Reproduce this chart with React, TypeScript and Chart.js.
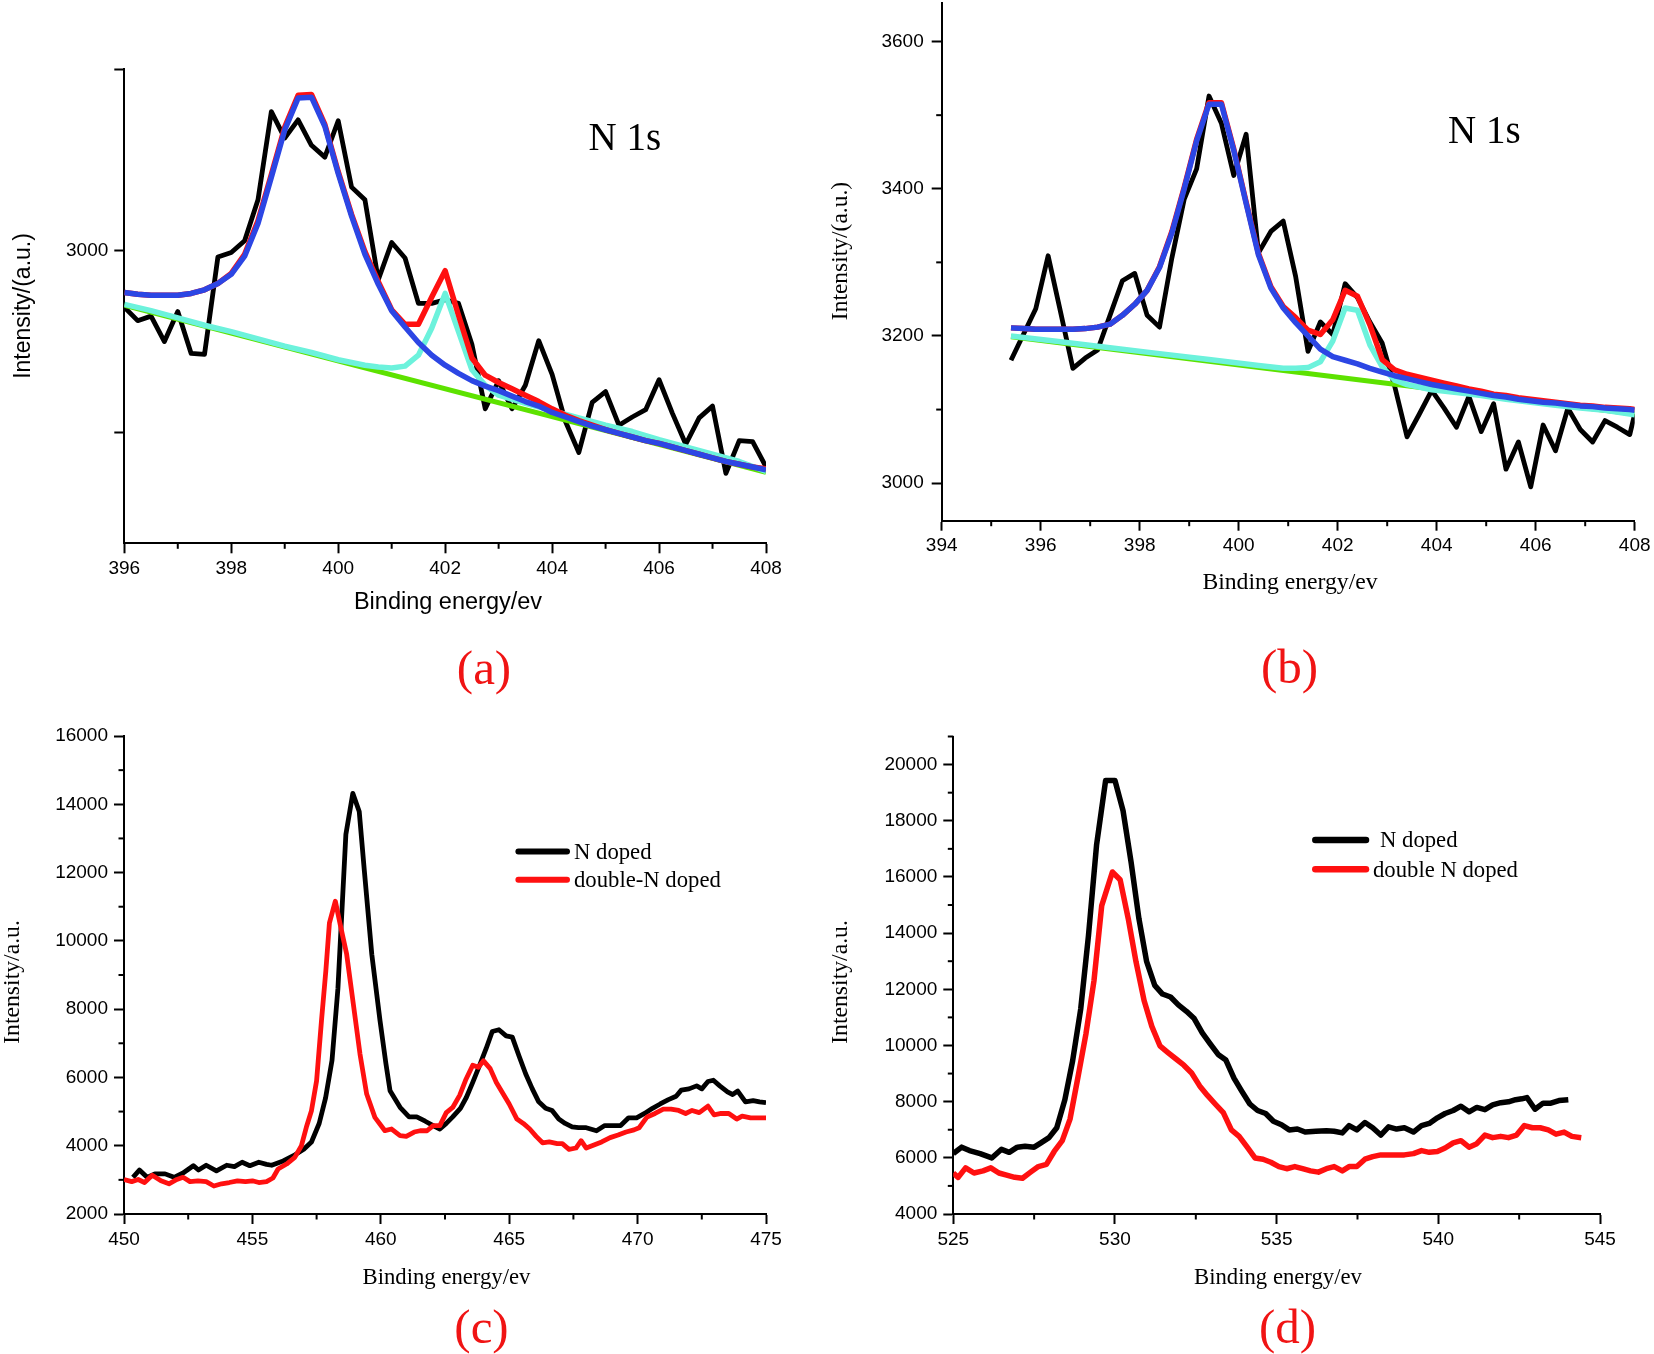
import React, { useEffect, useRef } from "react";
import { Chart, registerables } from "chart.js";

Chart.register(...registerables);

const PAGE_W = 1654;
const PAGE_H = 1354;
const SANS = '"Liberation Sans", Arial, Helvetica, sans-serif';
const SERIF = '"Liberation Serif", "Times New Roman", Times, serif';

const BLACK = "#000000";
const RED = "#ff1010";
const BLUE = "#2c46e4";
const CYAN = "#6cf2dc";
const GREEN = "#5de200";
const LABEL_RED = "#f01414";

// ---------------- Panel (a): N 1s ----------------
const A_X = [396, 396.25, 396.5, 396.75, 397, 397.25, 397.5, 397.75, 398, 398.25, 398.5, 398.75, 399, 399.25, 399.5, 399.75, 400, 400.25, 400.5, 400.75, 401, 401.25, 401.5, 401.75, 402, 402.25, 402.5, 402.75, 403, 403.25, 403.5, 403.75, 404, 404.25, 404.5, 404.75, 405, 405.25, 405.5, 405.75, 406, 406.25, 406.5, 406.75, 407, 407.25, 407.5, 407.75, 408];
const A_DATA = [2938, 2923, 2928, 2900, 2933, 2887, 2886, 2993, 2998, 3011, 3056, 3153, 3124, 3144, 3116, 3103, 3143, 3070, 3056, 2968, 3009, 2992, 2942, 2942, 2946, 2942, 2897, 2826, 2857, 2826, 2852, 2901, 2864, 2812, 2778, 2833, 2845, 2808, 2817, 2825, 2858, 2821, 2787, 2816, 2829, 2755, 2791, 2790, 2762];
const A_PEAK1 = [2954, 2952, 2951, 2951, 2951, 2953, 2957, 2964, 2974, 2994, 3030, 3081, 3133, 3168, 3169, 3137, 3085, 3038, 2996, 2963, 2934, 2916, 2899, 2885, 2874, 2865, 2857, 2851, 2846, 2840, 2834, 2829, 2822, 2817, 2812, 2807, 2803, 2799, 2795, 2791, 2788, 2784, 2780, 2776, 2772, 2768, 2765, 2762, 2759];
const A_ENVELOPE = [2954, 2952, 2951, 2951, 2951, 2953, 2957, 2964, 2975, 2996, 3033, 3084, 3136, 3171, 3172, 3139, 3087, 3040, 2999, 2966, 2935, 2919, 2919, 2949, 2978, 2929, 2882, 2863, 2855, 2848, 2841, 2834, 2826, 2819, 2813, 2808, 2803, 2799, 2795, 2791, 2788, 2784, 2780, 2776, 2772, 2768, 2765, 2762, 2760];
const A_PEAK2_X = [396, 396.5, 397, 397.5, 398, 398.5, 399, 399.5, 400, 400.5, 400.75, 401, 401.25, 401.5, 401.75, 402, 402.25, 402.5, 402.75, 403, 403.5, 404, 404.5, 405, 405.5, 406, 406.5, 407, 407.5, 408];
const A_PEAK2 = [2941, 2934, 2926, 2918, 2911, 2903, 2895, 2888, 2880, 2874, 2872, 2871, 2873, 2885, 2915, 2953, 2911, 2869, 2852, 2841, 2832, 2824, 2816, 2808, 2801, 2792, 2784, 2776, 2768, 2757];
const A_BG_X = [396, 408];
const A_BG = [2940, 2756];
const A_X_TICKS = [396, 398, 400, 402, 404, 406, 408];
const A_X_MINOR = [397, 399, 401, 403, 405, 407];
const A_Y_TICKS = [2800, 3000, 3200];
const A_Y_LABELED = [3000];

// ---------------- Panel (b): N 1s ----------------
const B_X = [395.4, 395.65, 395.9, 396.15, 396.4, 396.65, 396.9, 397.15, 397.4, 397.65, 397.9, 398.15, 398.4, 398.65, 398.9, 399.15, 399.4, 399.65, 399.9, 400.15, 400.4, 400.65, 400.9, 401.15, 401.4, 401.65, 401.9, 402.15, 402.4, 402.65, 402.9, 403.15, 403.4, 403.65, 403.9, 404.15, 404.4, 404.65, 404.9, 405.15, 405.4, 405.65, 405.9, 406.15, 406.4, 406.65, 406.9, 407.15, 407.4, 407.65, 407.9, 408];
const B_DATA = [3167, 3202, 3237, 3309, 3233, 3156, 3170, 3181, 3228, 3275, 3285, 3228, 3212, 3306, 3386, 3427, 3526, 3489, 3418, 3474, 3313, 3342, 3356, 3281, 3179, 3219, 3202, 3271, 3252, 3219, 3190, 3132, 3063, 3094, 3126, 3102, 3076, 3118, 3070, 3108, 3019, 3056, 2995, 3079, 3044, 3102, 3073, 3056, 3085, 3076, 3066, 3094];
const B_PEAK1 = [3211, 3210, 3209, 3209, 3209, 3209, 3210, 3212, 3216, 3228, 3243, 3262, 3293, 3340, 3400, 3465, 3515, 3515, 3452, 3380, 3310, 3265, 3238, 3218, 3200, 3182, 3172, 3167, 3162, 3156, 3151, 3146, 3142, 3138, 3134, 3131, 3128, 3125, 3122, 3119, 3117, 3114, 3112, 3110, 3109, 3107, 3105, 3104, 3102, 3101, 3100, 3099];
const B_ENVELOPE = [3211, 3210, 3209, 3209, 3209, 3209, 3210, 3212, 3216, 3228, 3243, 3262, 3294, 3342, 3402, 3467, 3517, 3517, 3454, 3382, 3312, 3267, 3240, 3225, 3208, 3202, 3222, 3262, 3254, 3215, 3168, 3154, 3148, 3144, 3140, 3136, 3132, 3128, 3125, 3121, 3119, 3116, 3114, 3112, 3110, 3108, 3106, 3105, 3103, 3102, 3101, 3100];
const B_PEAK2_X = [395.4, 396.4, 397.4, 398.4, 399.4, 400.4, 400.9, 401.15, 401.4, 401.65, 401.9, 402.15, 402.4, 402.65, 402.9, 403.15, 403.4, 403.9, 404.4, 404.9, 405.4, 405.9, 406.4, 406.9, 407.4, 408];
const B_PEAK2 = [3200, 3192, 3184, 3176, 3168, 3160, 3156, 3156, 3157, 3165, 3193, 3238, 3235, 3188, 3158, 3140, 3134, 3127, 3123, 3119, 3114, 3110, 3106, 3102, 3099, 3093];
const B_BG_X = [395.4, 408];
const B_BG = [3199, 3094];
const B_X_TICKS = [394, 396, 398, 400, 402, 404, 406, 408];
const B_X_MINOR = [395, 397, 399, 401, 403, 405, 407];
const B_Y_TICKS = [3000, 3200, 3400, 3600];
const B_Y_MINOR = [3100, 3300, 3500];

// ---------------- Panel (c) ----------------
const C_N_X = [450.35, 450.6, 450.9, 451.2, 451.6, 451.95, 452.3, 452.7, 452.9, 453.2, 453.6, 454.0, 454.3, 454.6, 454.9, 455.25, 455.55, 455.75, 456.2, 456.6, 457.0, 457.3, 457.6, 457.85, 458.1, 458.33, 458.64, 458.91, 459.16, 459.36, 459.65, 459.97, 460.2, 460.36, 460.75, 461.1, 461.4, 461.73, 462.04, 462.3, 462.55, 462.8, 463.1, 463.33, 463.58, 463.85, 464.1, 464.34, 464.6, 464.88, 465.12, 465.39, 465.64, 465.9, 466.15, 466.42, 466.67, 466.93, 467.18, 467.45, 467.7, 468.0, 468.4, 468.72, 469.03, 469.34, 469.65, 469.96, 470.27, 470.58, 470.88, 471.2, 471.5, 471.7, 472.0, 472.3, 472.5, 472.74, 472.95, 473.2, 473.5, 473.7, 473.9, 474.2, 474.5, 474.75, 475.0];
const C_N_Y = [3074, 3289, 3074, 3175, 3175, 3074, 3200, 3415, 3289, 3428, 3264, 3428, 3390, 3516, 3415, 3516, 3453, 3428, 3554, 3706, 3895, 4110, 4650, 5400, 6500, 8600, 13120, 14320, 13790, 12046, 9600, 7660, 6400, 5610, 5124, 4843, 4843, 4717, 4590, 4489, 4654, 4843, 5096, 5412, 5854, 6359, 6840, 7345, 7396, 7219, 7181, 6612, 6107, 5665, 5285, 5096, 5033, 4780, 4654, 4553, 4527, 4527, 4439, 4590, 4590, 4590, 4818, 4818, 4944, 5096, 5222, 5349, 5450, 5627, 5665, 5753, 5665, 5880, 5917, 5753, 5576, 5500, 5601, 5285, 5323, 5285, 5260];
const C_DN_X = [450.0, 450.3, 450.55, 450.8, 451.1, 451.44, 451.75, 452.06, 452.3, 452.57, 452.88, 453.2, 453.5, 453.8, 454.1, 454.42, 454.73, 455.0, 455.25, 455.55, 455.8, 456.0, 456.33, 456.65, 456.91, 457.1, 457.3, 457.5, 457.69, 457.86, 458.0, 458.23, 458.44, 458.67, 458.93, 459.19, 459.45, 459.77, 460.16, 460.42, 460.75, 460.99, 461.3, 461.53, 461.8, 462.04, 462.3, 462.55, 462.8, 463.07, 463.3, 463.58, 463.8, 464.0, 464.26, 464.5, 464.75, 465.0, 465.3, 465.55, 465.8, 466.05, 466.3, 466.56, 466.87, 467.07, 467.33, 467.6, 467.8, 468.0, 468.3, 468.6, 468.93, 469.24, 469.55, 469.86, 470.06, 470.37, 470.68, 471.0, 471.3, 471.6, 471.87, 472.12, 472.4, 472.74, 472.98, 473.25, 473.55, 473.86, 474.07, 474.4, 475.0];
const C_DN_Y = [3011, 2948, 3011, 2922, 3137, 2973, 2885, 3011, 3074, 2948, 2973, 2948, 2821, 2885, 2922, 2973, 2948, 2973, 2922, 2950, 3054, 3318, 3464, 3659, 4000, 4539, 5025, 5903, 7660, 9124, 10529, 11161, 10403, 9613, 8149, 6685, 5514, 4831, 4440, 4489, 4293, 4274, 4401, 4439, 4439, 4590, 4590, 4970, 5121, 5475, 5917, 6359, 6296, 6486, 6258, 5854, 5538, 5222, 4780, 4654, 4489, 4274, 4085, 4110, 4060, 4060, 3895, 3933, 4148, 3933, 4022, 4110, 4237, 4312, 4401, 4464, 4527, 4843, 4944, 5071, 5071, 5033, 4944, 5033, 4970, 5159, 4906, 4944, 4944, 4780, 4868, 4818, 4818];
const C_X_TICKS = [450, 455, 460, 465, 470, 475];
const C_X_MINOR = [452.5, 457.5, 462.5, 467.5, 472.5];
const C_Y_TICKS = [2000, 4000, 6000, 8000, 10000, 12000, 14000, 16000];
const C_Y_MINOR = [3000, 5000, 7000, 9000, 11000, 13000, 15000];

// ---------------- Panel (d) ----------------
const D_N_X = [525.0, 525.26, 525.5, 525.83, 526.19, 526.49, 526.73, 526.98, 527.22, 527.5, 527.71, 527.96, 528.2, 528.45, 528.69, 528.94, 529.18, 529.43, 529.71, 530.0, 530.25, 530.5, 530.74, 530.98, 531.23, 531.47, 531.72, 531.96, 532.21, 532.45, 532.7, 532.94, 533.19, 533.43, 533.68, 533.92, 534.17, 534.41, 534.66, 534.9, 535.15, 535.39, 535.64, 535.88, 536.21, 536.54, 536.78, 537.03, 537.24, 537.48, 537.73, 537.97, 538.22, 538.46, 538.71, 538.95, 539.23, 539.48, 539.72, 539.97, 540.21, 540.46, 540.7, 540.95, 541.19, 541.44, 541.68, 541.93, 542.17, 542.39, 542.58, 542.74, 542.99, 543.24, 543.48, 543.73, 544.02];
const D_N_Y = [6150, 6380, 6257, 6150, 5996, 6303, 6196, 6380, 6411, 6380, 6534, 6718, 7071, 8069, 9451, 11294, 13904, 17129, 19432, 19432, 18357, 16514, 14518, 12983, 12138, 11831, 11724, 11447, 11217, 10956, 10449, 10065, 9681, 9482, 8837, 8376, 7916, 7685, 7578, 7301, 7179, 6994, 7025, 6918, 6948, 6964, 6948, 6887, 7148, 6994, 7255, 7071, 6810, 7102, 7025, 7071, 6918, 7148, 7225, 7424, 7578, 7685, 7839, 7639, 7793, 7716, 7885, 7962, 7993, 8069, 8100, 8146, 7731, 7946, 7946, 8038, 8069];
const D_DN_X = [525.0, 525.15, 525.38, 525.64, 525.92, 526.16, 526.41, 526.65, 526.9, 527.14, 527.39, 527.63, 527.88, 528.12, 528.37, 528.61, 528.86, 529.1, 529.35, 529.59, 529.92, 530.16, 530.41, 530.65, 530.9, 531.14, 531.39, 531.63, 531.88, 532.13, 532.37, 532.62, 532.86, 533.1, 533.35, 533.6, 533.84, 534.09, 534.33, 534.58, 534.82, 535.07, 535.31, 535.56, 535.8, 536.05, 536.29, 536.54, 536.78, 537.03, 537.24, 537.48, 537.73, 537.97, 538.22, 538.46, 538.71, 538.95, 539.23, 539.48, 539.72, 539.97, 540.21, 540.46, 540.7, 540.95, 541.19, 541.44, 541.68, 541.93, 542.17, 542.42, 542.66, 542.91, 543.15, 543.4, 543.64, 543.89, 544.13, 544.42];
const D_DN_Y = [5459, 5305, 5643, 5459, 5536, 5643, 5459, 5382, 5305, 5274, 5490, 5689, 5766, 6226, 6610, 7378, 8900, 10400, 12300, 14979, 16177, 15900, 14518, 12983, 11601, 10679, 9988, 9758, 9528, 9297, 9021, 8560, 8223, 7916, 7608, 6994, 6764, 6380, 5996, 5950, 5843, 5689, 5612, 5689, 5612, 5536, 5490, 5612, 5689, 5536, 5689, 5689, 5950, 6042, 6104, 6104, 6104, 6104, 6150, 6257, 6196, 6226, 6349, 6534, 6610, 6380, 6503, 6810, 6718, 6764, 6718, 6810, 7148, 7071, 7071, 6994, 6841, 6918, 6764, 6718];
const D_X_TICKS = [525, 530, 535, 540, 545];
const D_X_MINOR = [527.5, 532.5, 537.5, 542.5];
const D_Y_TICKS = [4000, 6000, 8000, 10000, 12000, 14000, 16000, 18000, 20000];
const D_Y_MINOR = [5000, 7000, 9000, 11000, 13000, 15000, 17000, 19000, 21000];

const pts = (xs: number[], ys: number[]) => xs.map((x, i) => ({ x, y: ys[i] }));

const line = (label: string, xs: number[], ys: number[], color: string, width: number, order: number) => ({
  label,
  data: pts(xs, ys),
  borderColor: color,
  backgroundColor: color,
  borderWidth: width,
  pointRadius: 0,
  fill: false,
  tension: 0,
  borderJoinStyle: "round",
  borderCapStyle: "butt",
  order,
});

const decorPlugin = {
  id: "decor",
  afterDraw(chart: any, _args: any, opts: any) {
    const ctx = chart.ctx;
    const area = chart.chartArea;
    const xs = chart.scales.x;
    const ys = chart.scales.y;
    ctx.save();
    ctx.strokeStyle = "#000";
    ctx.lineWidth = 2;
    ctx.lineCap = "butt";
    const len = opts.minorLen || 5.5;
    (opts.minorX || []).forEach((v: number) => {
      const px = xs.getPixelForValue(v);
      ctx.beginPath();
      ctx.moveTo(px, area.bottom);
      ctx.lineTo(px, area.bottom + len);
      ctx.stroke();
    });
    (opts.minorY || []).forEach((v: number) => {
      const py = ys.getPixelForValue(v);
      ctx.beginPath();
      ctx.moveTo(area.left, py);
      ctx.lineTo(area.left - len, py);
      ctx.stroke();
    });
    (opts.texts || []).forEach((t: any) => {
      ctx.save();
      ctx.translate(t.x, t.y);
      if (t.rot) ctx.rotate(t.rot);
      ctx.font = t.font;
      ctx.fillStyle = t.color || "#000";
      ctx.textAlign = t.align || "left";
      ctx.textBaseline = t.baseline || "alphabetic";
      ctx.fillText(t.text, 0, 0);
      ctx.restore();
    });
    if (opts.legend) {
      const L = opts.legend;
      L.rows.forEach((r: any) => {
        const ds = chart.data.datasets[r.ds];
        ctx.strokeStyle = ds.borderColor;
        ctx.lineWidth = L.lineWidth;
        ctx.lineCap = "round";
        ctx.beginPath();
        ctx.moveTo(L.x1, r.y);
        ctx.lineTo(L.x2, r.y);
        ctx.stroke();
        ctx.font = L.font;
        ctx.fillStyle = "#000";
        ctx.textAlign = "left";
        ctx.textBaseline = "alphabetic";
        ctx.fillText(ds.label, r.tx, r.ty);
      });
    }
    ctx.restore();
  },
};

const YW = 70;
const XH = 50;

function buildConfig(spec: any) {
  const { area } = spec;
  const tickFont = { family: SANS, size: 19 };
  return {
    type: "line",
    data: { datasets: spec.datasets },
    options: {
      responsive: false,
      maintainAspectRatio: false,
      animation: false,
      devicePixelRatio: 1,
      events: [],
      layout: {
        padding: {
          left: area.l - YW,
          top: area.t,
          right: PAGE_W - area.r,
          bottom: PAGE_H - area.b - XH,
        },
      },
      scales: {
        x: {
          type: "linear",
          bounds: "data",
          min: spec.xMin,
          max: spec.xMax,
          afterBuildTicks: (s: any) => {
            s.ticks = spec.xTicks.map((v: number) => ({ value: v }));
          },
          afterFit: (s: any) => {
            s.height = XH;
            s.paddingLeft = 0;
            s.paddingRight = 0;
          },
          ticks: {
            autoSkip: false,
            maxRotation: 0,
            minRotation: 0,
            padding: 4,
            color: "#000",
            font: tickFont,
            callback: (v: any) => String(v),
          },
          grid: {
            display: true,
            drawOnChartArea: false,
            drawTicks: true,
            tickLength: 10,
            tickWidth: 2,
            tickColor: "#000",
            color: "#000",
          },
          border: { display: true, color: "#000", width: 2 },
        },
        y: {
          type: "linear",
          bounds: "data",
          min: spec.yMin,
          max: spec.yMax,
          afterBuildTicks: (s: any) => {
            s.ticks = spec.yTicks.map((v: number) => ({ value: v }));
          },
          afterFit: (s: any) => {
            s.width = YW;
            s.paddingTop = 0;
            s.paddingBottom = 0;
          },
          ticks: {
            autoSkip: false,
            padding: spec.yPad || 6,
            color: "#000",
            font: tickFont,
            callback: (v: any) => (spec.yLabeled ? (spec.yLabeled.includes(v) ? String(v) : "") : String(v)),
          },
          grid: {
            display: true,
            drawOnChartArea: false,
            drawTicks: true,
            tickLength: 10,
            tickWidth: 2,
            tickColor: "#000",
            color: "#000",
          },
          border: { display: true, color: "#000", width: 2 },
        },
      },
      plugins: {
        legend: { display: false },
        tooltip: { enabled: false },
        decor: spec.decor,
      },
    },
    plugins: [decorPlugin],
  };
}

const ROT = -Math.PI / 2;

const SPEC_A = {
  area: { l: 124.3, r: 766, t: 69, b: 543.3 },
  xMin: 396, xMax: 408, yMin: 2678, yMax: 3200,
  xTicks: A_X_TICKS, yTicks: A_Y_TICKS, yLabeled: A_Y_LABELED,
  datasets: [
    line("Peak 1 fit", A_X, A_PEAK1, BLUE, 5.5, 1),
    line("Cumulative fit", A_X, A_ENVELOPE, RED, 5.5, 2),
    line("Peak 2 fit", A_PEAK2_X, A_PEAK2, CYAN, 5.5, 3),
    line("Background", A_BG_X, A_BG, GREEN, 5, 4),
    line("N 1s data", A_X, A_DATA, BLACK, 4.8, 5),
  ],
  decor: {
    minorX: A_X_MINOR,
    minorY: [],
    texts: [
      { text: "Intensity/(a.u.)", x: 24, y: 306, rot: ROT, font: `23px ${SANS}`, align: "center", baseline: "middle" },
      { text: "Binding energy/ev", x: 448, y: 609, font: `23.5px ${SANS}`, align: "center" },
      { text: "N 1s", x: 588.5, y: 149.5, font: `39px ${SERIF}` },
      { text: "(a)", x: 484, y: 684, font: `49px ${SERIF}`, align: "center", color: LABEL_RED },
    ],
  },
};

const SPEC_B = {
  area: { l: 941.7, r: 1634.7, t: 3.3, b: 520.7 },
  xMin: 394, xMax: 408, yMin: 2949, yMax: 3652, yPad: 8,
  xTicks: B_X_TICKS, yTicks: B_Y_TICKS,
  datasets: [
    line("Peak 1 fit", B_X, B_PEAK1, BLUE, 5.5, 1),
    line("Cumulative fit", B_X, B_ENVELOPE, RED, 5.5, 2),
    line("Peak 2 fit", B_PEAK2_X, B_PEAK2, CYAN, 5.5, 3),
    line("Background", B_BG_X, B_BG, GREEN, 5, 4),
    line("N 1s data", B_X, B_DATA, BLACK, 4.8, 5),
  ],
  decor: {
    minorX: B_X_MINOR,
    minorY: B_Y_MINOR,
    texts: [
      { text: "Intensity/(a.u.)", x: 841, y: 251, rot: ROT, font: `23.5px ${SERIF}`, align: "center", baseline: "middle" },
      { text: "Binding energy/ev", x: 1290, y: 589, font: `23.7px ${SERIF}`, align: "center" },
      { text: "N 1s", x: 1448, y: 143, font: `39px ${SERIF}` },
      { text: "(b)", x: 1289.5, y: 683, font: `49px ${SERIF}`, align: "center", color: LABEL_RED },
    ],
  },
};

const SPEC_C = {
  area: { l: 124, r: 766, t: 736, b: 1214 },
  xMin: 450, xMax: 475, yMin: 2000, yMax: 16000,
  xTicks: C_X_TICKS, yTicks: C_Y_TICKS,
  datasets: [
    line("N doped", C_N_X, C_N_Y, BLACK, 4.8, 2),
    line("double-N doped", C_DN_X, C_DN_Y, RED, 4.8, 1),
  ],
  decor: {
    minorX: C_X_MINOR,
    minorY: C_Y_MINOR,
    texts: [
      { text: "Intensity/a.u.", x: 13, y: 982, rot: ROT, font: `23.7px ${SERIF}`, align: "center", baseline: "middle" },
      { text: "Binding energy/ev", x: 446.5, y: 1284, font: `22.7px ${SERIF}`, align: "center" },
      { text: "(c)", x: 481.5, y: 1343, font: `49px ${SERIF}`, align: "center", color: LABEL_RED },
    ],
    legend: {
      lineWidth: 6,
      x1: 518.4,
      x2: 567,
      font: `22.7px ${SERIF}`,
      rows: [
        { ds: 0, y: 851.5, tx: 574, ty: 859 },
        { ds: 1, y: 879.7, tx: 574, ty: 887.2 },
      ],
    },
  },
};

const SPEC_D = {
  area: { l: 953.3, r: 1600, t: 736.5, b: 1214 },
  xMin: 525, xMax: 545, yMin: 4000, yMax: 21000,
  xTicks: D_X_TICKS, yTicks: D_Y_TICKS,
  datasets: [
    line("N doped", D_N_X, D_N_Y, BLACK, 5.5, 2),
    line("double N doped", D_DN_X, D_DN_Y, RED, 5.5, 1),
  ],
  decor: {
    minorX: D_X_MINOR,
    minorY: D_Y_MINOR,
    texts: [
      { text: "Intensity/a.u.", x: 841, y: 982, rot: ROT, font: `23.7px ${SERIF}`, align: "center", baseline: "middle" },
      { text: "Binding energy/ev", x: 1278, y: 1283.5, font: `22.7px ${SERIF}`, align: "center" },
      { text: "(d)", x: 1287.5, y: 1343, font: `49px ${SERIF}`, align: "center", color: LABEL_RED },
    ],
    legend: {
      lineWidth: 6.5,
      x1: 1315.3,
      x2: 1366,
      font: `22.7px ${SERIF}`,
      rows: [
        { ds: 0, y: 840, tx: 1380, ty: 847.3 },
        { ds: 1, y: 869.3, tx: 1373, ty: 876.7 },
      ],
    },
  },
};

function Panel({ spec }: { spec: any }) {
  const ref = useRef<HTMLCanvasElement | null>(null);
  useEffect(() => {
    if (!ref.current) return;
    const chart = new Chart(ref.current, buildConfig(spec) as any);
    return () => chart.destroy();
  }, [spec]);
  return (
    <canvas
      ref={ref}
      width={PAGE_W}
      height={PAGE_H}
      style={{ position: "absolute", left: 0, top: 0, width: PAGE_W, height: PAGE_H }}
    />
  );
}

export default function App() {
  return (
    <div
      style={{
        position: "absolute",
        left: 0,
        top: 0,
        width: PAGE_W,
        height: PAGE_H,
        background: "#ffffff",
        overflow: "hidden",
      }}
    >
      <Panel spec={SPEC_A} />
      <Panel spec={SPEC_B} />
      <Panel spec={SPEC_C} />
      <Panel spec={SPEC_D} />
    </div>
  );
}
